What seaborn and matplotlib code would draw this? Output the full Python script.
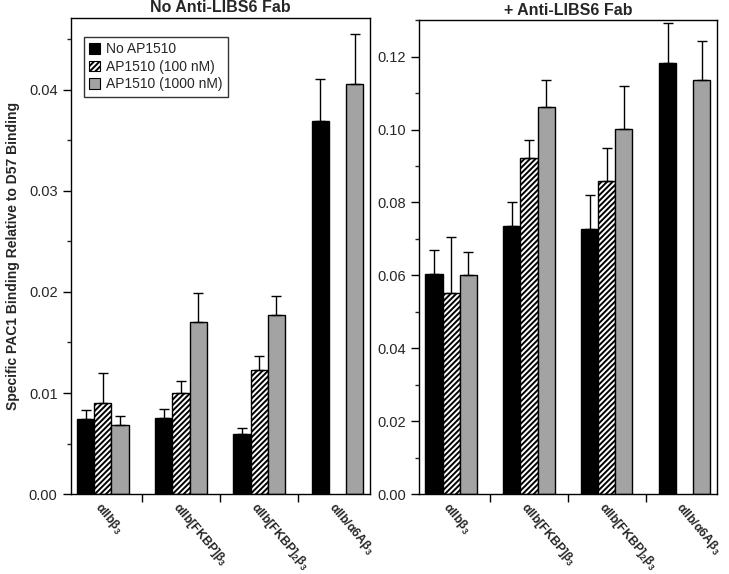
import numpy as np
import pandas as pd
import matplotlib
matplotlib.use("Agg")
from matplotlib import pyplot as plt
from matplotlib.patches import Patch
import seaborn as sns

# values
constructs = [r'$\boldsymbol{\alpha}$IIb$\boldsymbol{\beta}_\mathbf{3}$',
              r'$\boldsymbol{\alpha}$IIb[FKBP]$\boldsymbol{\beta}_\mathbf{3}$',
              r'$\boldsymbol{\alpha}$IIb[FKBP]$_\mathbf{2}\boldsymbol{\beta}_\mathbf{3}$',
              r'$\boldsymbol{\alpha}$IIb/$\boldsymbol{\alpha}$6A$\boldsymbol{\beta}_\mathbf{3}$']
conditions = ['No AP1510', 'AP1510 (100 nM)', 'AP1510 (1000 nM)']

# no anti-LIBS6 Fab
no_fab_none = [0.0074, 0.0075, 0.0060, 0.0369]
no_fab_100 = [0.0090, 0.0100, 0.0123, np.nan]
no_fab_1000 = [0.0068, 0.0170, 0.0177, 0.0406]
no_fab_none_err = [0.0009, 0.0009, 0.0005, 0.0041]
no_fab_100_err = [0.0030, 0.0012, 0.0014, np.nan]
no_fab_1000_err = [0.0009, 0.0029, 0.0019, 0.0049]

# + anti-LIBS6 Fab
fab_none = [0.0605, 0.0736, 0.0728, 0.1182]
fab_100 = [0.0551, 0.0922, 0.0860, np.nan]
fab_1000 = [0.0601, 0.1062, 0.1002, 0.1137]
fab_none_err = [0.0065, 0.0064, 0.0093, 0.0110]
fab_100_err = [0.0155, 0.0048, 0.0090, np.nan]
fab_1000_err = [0.0064, 0.0073, 0.0118, 0.0107]


def make_df(vals, errs):
    rows = []
    for cond, v, e in zip(conditions, vals, errs):
        for c, vi, ei in zip(constructs, v, e):
            rows.append({'construct': c, 'condition': cond, 'value': vi, 'err': ei})
    return pd.DataFrame(rows)


df_left = make_df([no_fab_none, no_fab_100, no_fab_1000],
                  [no_fab_none_err, no_fab_100_err, no_fab_1000_err])
df_right = make_df([fab_none, fab_100, fab_1000],
                   [fab_none_err, fab_100_err, fab_1000_err])

sns.set_style("ticks")
plt.rcParams['font.family'] = ['Liberation Sans', 'DejaVu Sans']
plt.rcParams['mathtext.fontset'] = 'custom'
plt.rcParams['mathtext.rm'] = 'Liberation Sans'
plt.rcParams['mathtext.it'] = 'Liberation Sans'
plt.rcParams['mathtext.bf'] = 'Liberation Sans:bold'
plt.rcParams['mathtext.bfit'] = 'Liberation Sans:bold'
plt.rcParams['hatch.linewidth'] = 1.4

colors = ['black', 'white', '#a3a3a3']
hatches = ['', '//////', '']

fig = plt.figure(figsize=(7.29, 5.74), dpi=100)
ax1 = fig.add_axes([0.097, 0.139, 0.411, 0.830])
ax2 = fig.add_axes([0.575, 0.139, 0.409, 0.826])


def draw_panel(ax, df, title, ymax, major, minor):
    sns.barplot(data=df, x='construct', y='value', hue='condition',
                hue_order=conditions, order=constructs, palette=colors,
                width=0.66, errorbar=None, edgecolor='black', linewidth=1.0,
                legend=False, ax=ax)
    bar_conts = list(ax.containers)
    for i, cont in enumerate(bar_conts):
        sub = df[df['condition'] == conditions[i]]
        if len(cont) != len(sub):
            sub = sub.dropna()
        for bar, (_, row) in zip(cont, sub.iterrows()):
            bar.set_hatch(hatches[i])
            if np.isnan(row['value']):
                continue
            xc = bar.get_x() + bar.get_width() / 2
            ax.errorbar(xc, row['value'], yerr=[[0], [row['err']]], fmt='none',
                        ecolor='black', elinewidth=1.0, capsize=3.5, capthick=1.0)
    ax.set_xlim(-0.41, 3.42)
    ax.set_ylim(0, ymax)
    ax.set_yticks(np.arange(0, ymax + 1e-9, major))
    ax.set_yticks(np.arange(0, ymax + 1e-9, minor), minor=True)
    ax.yaxis.set_major_formatter(matplotlib.ticker.FormatStrFormatter('%.2f'))
    ax.set_xticks([0.5, 1.5, 2.5])
    ax.set_xticklabels([])
    for j, lab in enumerate(constructs):
        ax.text(j + 0.0, -ymax * 0.011, lab, rotation=-50, ha='left', va='top',
                rotation_mode='anchor', fontsize=8.8, fontweight='bold',
                transform=ax.transData)
    ax.tick_params(axis='both', which='major', direction='out', length=6,
                   width=1, labelsize=10.5, color='black')
    ax.tick_params(axis='y', which='minor', direction='out', length=3, width=1)
    for s in ax.spines.values():
        s.set_visible(True)
        s.set_linewidth(1.0)
        s.set_color('black')
    ax.set_xlabel('')
    ax.set_ylabel('')
    ax.set_title(title, fontsize=11.5, fontweight='bold', pad=4)


draw_panel(ax1, df_left, 'No Anti-LIBS6 Fab', 0.0471, 0.01, 0.005)
draw_panel(ax2, df_right, '+ Anti-LIBS6 Fab', 0.130, 0.02, 0.01)

ax1.set_ylabel('Specific PAC1 Binding Relative to D57 Binding',
               fontsize=10, fontweight='bold', labelpad=6)

handles = [Patch(facecolor=c, edgecolor='black', hatch=h, linewidth=0.8)
           for c, h in zip(colors, hatches)]
leg = ax1.legend(handles, conditions, loc='upper left', bbox_to_anchor=(0.02, 0.975),
                 frameon=True, fancybox=False, edgecolor='black', fontsize=10,
                 handlelength=0.8, handleheight=0.8, handletextpad=0.4,
                 borderpad=0.4, labelspacing=0.25)
leg.get_frame().set_linewidth(1.0)

fig.savefig('out.png', dpi=100)
